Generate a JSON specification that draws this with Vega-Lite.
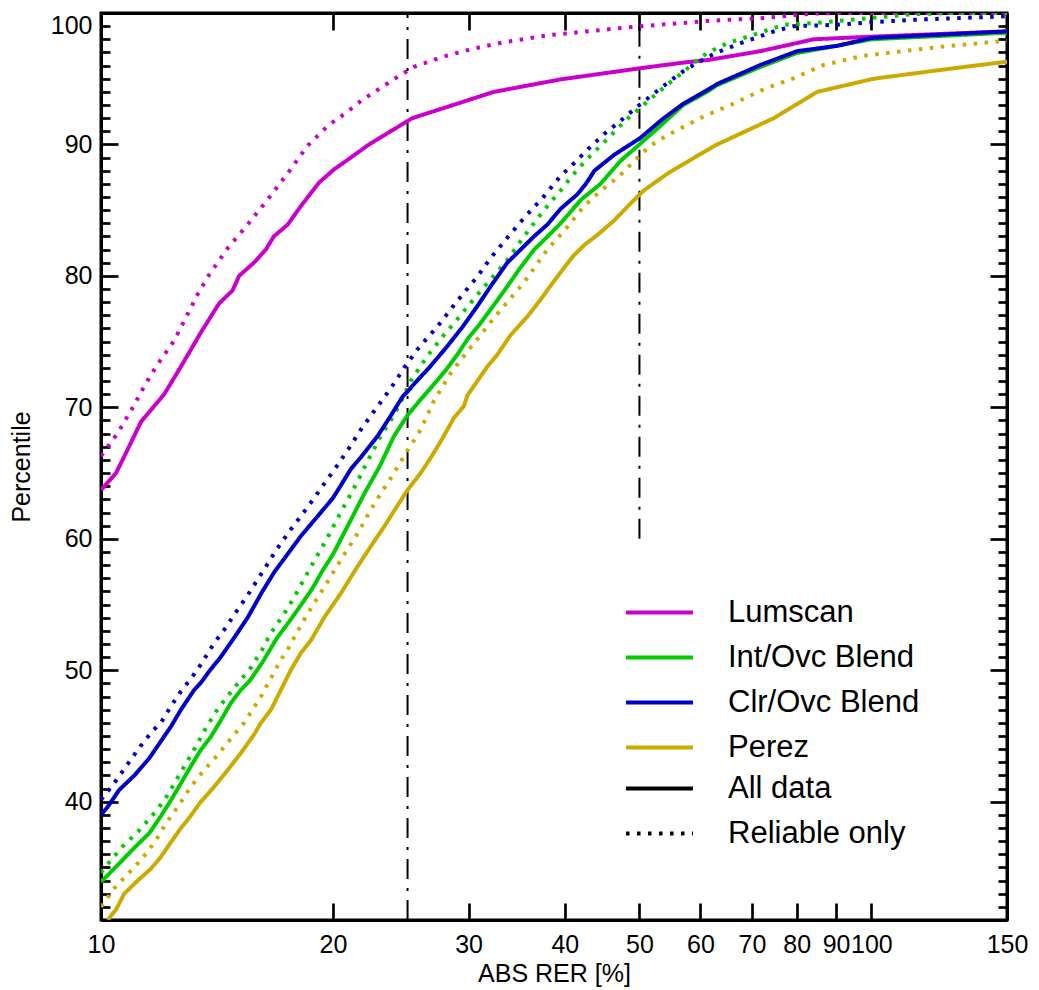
{
  "$schema": "https://vega.github.io/schema/vega-lite/v6.json",
  "width": 906,
  "height": 907,
  "autosize": {"type": "none"},
  "padding": {"left": 101, "top": 13, "right": 32, "bottom": 70},
  "background": "white",
  "config": {
    "font": "Liberation Sans",
    "view": {"stroke": "black", "strokeWidth": 3},
    "axis": {
      "domainColor": "black", "domainWidth": 3,
      "tickColor": "black", "tickWidth": 2.7,
      "labelColor": "black", "labelFont": "Liberation Sans", "labelFontSize": 25,
      "titleFont": "Liberation Sans", "titleFontSize": 25, "titleFontWeight": "normal", "titleColor": "black",
      "grid": false, "labelOverlap": false
    }
  },
  "datasets": {
    "refs": [
      {"rer": 25, "lo": 31, "hi": 100},
      {"rer": 50, "lo": 60, "hi": 100}
    ],
    "curves": [
      {"method":"Lumscan","subset":"All data","rer":10,"pct":63.7},
      {"method":"Lumscan","subset":"All data","rer":10.46,"pct":65.0},
      {"method":"Lumscan","subset":"All data","rer":10.83,"pct":66.8},
      {"method":"Lumscan","subset":"All data","rer":11.27,"pct":68.9},
      {"method":"Lumscan","subset":"All data","rer":11.61,"pct":69.8},
      {"method":"Lumscan","subset":"All data","rer":12.08,"pct":71.0},
      {"method":"Lumscan","subset":"All data","rer":12.7,"pct":73.1},
      {"method":"Lumscan","subset":"All data","rer":13.48,"pct":75.7},
      {"method":"Lumscan","subset":"All data","rer":14.23,"pct":77.9},
      {"method":"Lumscan","subset":"All data","rer":14.82,"pct":78.9},
      {"method":"Lumscan","subset":"All data","rer":15.11,"pct":80.0},
      {"method":"Lumscan","subset":"All data","rer":15.79,"pct":81.0},
      {"method":"Lumscan","subset":"All data","rer":16.37,"pct":82.0},
      {"method":"Lumscan","subset":"All data","rer":16.76,"pct":83.0},
      {"method":"Lumscan","subset":"All data","rer":17.47,"pct":83.9},
      {"method":"Lumscan","subset":"All data","rer":18.17,"pct":85.3},
      {"method":"Lumscan","subset":"All data","rer":19.19,"pct":87.1},
      {"method":"Lumscan","subset":"All data","rer":20.07,"pct":88.1},
      {"method":"Lumscan","subset":"All data","rer":21.1,"pct":89.0},
      {"method":"Lumscan","subset":"All data","rer":22.28,"pct":90.0},
      {"method":"Lumscan","subset":"All data","rer":25.36,"pct":92.0},
      {"method":"Lumscan","subset":"All data","rer":32.36,"pct":94.0},
      {"method":"Lumscan","subset":"All data","rer":39.5,"pct":94.95},
      {"method":"Lumscan","subset":"All data","rer":50.15,"pct":95.8},
      {"method":"Lumscan","subset":"All data","rer":56.5,"pct":96.2},
      {"method":"Lumscan","subset":"All data","rer":61.8,"pct":96.45},
      {"method":"Lumscan","subset":"All data","rer":71.8,"pct":97.1},
      {"method":"Lumscan","subset":"All data","rer":84.19,"pct":98.0},
      {"method":"Lumscan","subset":"All data","rer":100,"pct":98.2},
      {"method":"Lumscan","subset":"All data","rer":150,"pct":98.6},

      {"method":"Lumscan","subset":"Reliable only","rer":10,"pct":66.3},
      {"method":"Lumscan","subset":"Reliable only","rer":10.5,"pct":68.0},
      {"method":"Lumscan","subset":"Reliable only","rer":11.0,"pct":70.0},
      {"method":"Lumscan","subset":"Reliable only","rer":11.38,"pct":71.6},
      {"method":"Lumscan","subset":"Reliable only","rer":11.79,"pct":73.1},
      {"method":"Lumscan","subset":"Reliable only","rer":12.45,"pct":75.1},
      {"method":"Lumscan","subset":"Reliable only","rer":12.83,"pct":76.6},
      {"method":"Lumscan","subset":"Reliable only","rer":13.35,"pct":78.6},
      {"method":"Lumscan","subset":"Reliable only","rer":13.82,"pct":80.1},
      {"method":"Lumscan","subset":"Reliable only","rer":14.6,"pct":82.1},
      {"method":"Lumscan","subset":"Reliable only","rer":15.5,"pct":83.9},
      {"method":"Lumscan","subset":"Reliable only","rer":16.45,"pct":85.8},
      {"method":"Lumscan","subset":"Reliable only","rer":17.47,"pct":87.8},
      {"method":"Lumscan","subset":"Reliable only","rer":18.54,"pct":89.9},
      {"method":"Lumscan","subset":"Reliable only","rer":19.68,"pct":91.4},
      {"method":"Lumscan","subset":"Reliable only","rer":20.79,"pct":92.4},
      {"method":"Lumscan","subset":"Reliable only","rer":21.85,"pct":93.4},
      {"method":"Lumscan","subset":"Reliable only","rer":24.13,"pct":95.05},
      {"method":"Lumscan","subset":"Reliable only","rer":25.48,"pct":95.9},
      {"method":"Lumscan","subset":"Reliable only","rer":27.87,"pct":96.7},
      {"method":"Lumscan","subset":"Reliable only","rer":30.49,"pct":97.3},
      {"method":"Lumscan","subset":"Reliable only","rer":33.51,"pct":97.8},
      {"method":"Lumscan","subset":"Reliable only","rer":37.96,"pct":98.3},
      {"method":"Lumscan","subset":"Reliable only","rer":44.51,"pct":98.7},
      {"method":"Lumscan","subset":"Reliable only","rer":50.15,"pct":99.0},
      {"method":"Lumscan","subset":"Reliable only","rer":55.97,"pct":99.2},
      {"method":"Lumscan","subset":"Reliable only","rer":61.21,"pct":99.4},
      {"method":"Lumscan","subset":"Reliable only","rer":71.8,"pct":99.6},
      {"method":"Lumscan","subset":"Reliable only","rer":83.36,"pct":99.95},
      {"method":"Lumscan","subset":"Reliable only","rer":90,"pct":100},
      {"method":"Lumscan","subset":"Reliable only","rer":150,"pct":100},

      {"method":"Int/Ovc Blend","subset":"All data","rer":10,"pct":33.9},
      {"method":"Int/Ovc Blend","subset":"All data","rer":10.56,"pct":35.3},
      {"method":"Int/Ovc Blend","subset":"All data","rer":11.05,"pct":36.5},
      {"method":"Int/Ovc Blend","subset":"All data","rer":11.55,"pct":37.6},
      {"method":"Int/Ovc Blend","subset":"All data","rer":11.96,"pct":38.9},
      {"method":"Int/Ovc Blend","subset":"All data","rer":12.32,"pct":40.1},
      {"method":"Int/Ovc Blend","subset":"All data","rer":12.7,"pct":41.4},
      {"method":"Int/Ovc Blend","subset":"All data","rer":13.08,"pct":42.7},
      {"method":"Int/Ovc Blend","subset":"All data","rer":13.48,"pct":43.95},
      {"method":"Int/Ovc Blend","subset":"All data","rer":13.89,"pct":44.95},
      {"method":"Int/Ovc Blend","subset":"All data","rer":14.31,"pct":46.2},
      {"method":"Int/Ovc Blend","subset":"All data","rer":14.74,"pct":47.5},
      {"method":"Int/Ovc Blend","subset":"All data","rer":15.19,"pct":48.5},
      {"method":"Int/Ovc Blend","subset":"All data","rer":15.6,"pct":49.2},
      {"method":"Int/Ovc Blend","subset":"All data","rer":16.2,"pct":50.6},
      {"method":"Int/Ovc Blend","subset":"All data","rer":16.9,"pct":52.4},
      {"method":"Int/Ovc Blend","subset":"All data","rer":17.5,"pct":53.6},
      {"method":"Int/Ovc Blend","subset":"All data","rer":18.0,"pct":54.6},
      {"method":"Int/Ovc Blend","subset":"All data","rer":18.8,"pct":56.2},
      {"method":"Int/Ovc Blend","subset":"All data","rer":19.4,"pct":57.6},
      {"method":"Int/Ovc Blend","subset":"All data","rer":20.0,"pct":58.8},
      {"method":"Int/Ovc Blend","subset":"All data","rer":21.0,"pct":61.2},
      {"method":"Int/Ovc Blend","subset":"All data","rer":22.0,"pct":63.5},
      {"method":"Int/Ovc Blend","subset":"All data","rer":23.0,"pct":65.5},
      {"method":"Int/Ovc Blend","subset":"All data","rer":24.0,"pct":67.8},
      {"method":"Int/Ovc Blend","subset":"All data","rer":25.0,"pct":69.4},
      {"method":"Int/Ovc Blend","subset":"All data","rer":26.0,"pct":70.6},
      {"method":"Int/Ovc Blend","subset":"All data","rer":27.0,"pct":71.7},
      {"method":"Int/Ovc Blend","subset":"All data","rer":28.0,"pct":72.8},
      {"method":"Int/Ovc Blend","subset":"All data","rer":29.0,"pct":74.0},
      {"method":"Int/Ovc Blend","subset":"All data","rer":30.0,"pct":75.3},
      {"method":"Int/Ovc Blend","subset":"All data","rer":31.0,"pct":76.3},
      {"method":"Int/Ovc Blend","subset":"All data","rer":32.0,"pct":77.4},
      {"method":"Int/Ovc Blend","subset":"All data","rer":33.5,"pct":79.0},
      {"method":"Int/Ovc Blend","subset":"All data","rer":35.0,"pct":80.6},
      {"method":"Int/Ovc Blend","subset":"All data","rer":36.5,"pct":82.0},
      {"method":"Int/Ovc Blend","subset":"All data","rer":38.0,"pct":83.0},
      {"method":"Int/Ovc Blend","subset":"All data","rer":39.5,"pct":84.0},
      {"method":"Int/Ovc Blend","subset":"All data","rer":42.0,"pct":85.8},
      {"method":"Int/Ovc Blend","subset":"All data","rer":44.5,"pct":87.0},
      {"method":"Int/Ovc Blend","subset":"All data","rer":47.25,"pct":88.75},
      {"method":"Int/Ovc Blend","subset":"All data","rer":50.0,"pct":90.0},
      {"method":"Int/Ovc Blend","subset":"All data","rer":53.2,"pct":91.4},
      {"method":"Int/Ovc Blend","subset":"All data","rer":57.0,"pct":93.0},
      {"method":"Int/Ovc Blend","subset":"All data","rer":61.2,"pct":94.0},
      {"method":"Int/Ovc Blend","subset":"All data","rer":63.0,"pct":94.5},
      {"method":"Int/Ovc Blend","subset":"All data","rer":71.8,"pct":95.9},
      {"method":"Int/Ovc Blend","subset":"All data","rer":80.0,"pct":96.95},
      {"method":"Int/Ovc Blend","subset":"All data","rer":90.0,"pct":97.5},
      {"method":"Int/Ovc Blend","subset":"All data","rer":100,"pct":98.0},
      {"method":"Int/Ovc Blend","subset":"All data","rer":150,"pct":98.5},

      {"method":"Int/Ovc Blend","subset":"Reliable only","rer":10,"pct":34.6},
      {"method":"Int/Ovc Blend","subset":"Reliable only","rer":10.25,"pct":35.4},
      {"method":"Int/Ovc Blend","subset":"Reliable only","rer":10.67,"pct":36.6},
      {"method":"Int/Ovc Blend","subset":"Reliable only","rer":11.16,"pct":37.7},
      {"method":"Int/Ovc Blend","subset":"Reliable only","rer":11.6,"pct":38.8},
      {"method":"Int/Ovc Blend","subset":"Reliable only","rer":12.08,"pct":40.1},
      {"method":"Int/Ovc Blend","subset":"Reliable only","rer":12.45,"pct":41.4},
      {"method":"Int/Ovc Blend","subset":"Reliable only","rer":12.89,"pct":42.9},
      {"method":"Int/Ovc Blend","subset":"Reliable only","rer":13.28,"pct":44.2},
      {"method":"Int/Ovc Blend","subset":"Reliable only","rer":13.68,"pct":45.6},
      {"method":"Int/Ovc Blend","subset":"Reliable only","rer":14.1,"pct":46.85},
      {"method":"Int/Ovc Blend","subset":"Reliable only","rer":14.5,"pct":47.8},
      {"method":"Int/Ovc Blend","subset":"Reliable only","rer":15.0,"pct":48.9},
      {"method":"Int/Ovc Blend","subset":"Reliable only","rer":15.65,"pct":50.2},
      {"method":"Int/Ovc Blend","subset":"Reliable only","rer":16.2,"pct":51.6},
      {"method":"Int/Ovc Blend","subset":"Reliable only","rer":16.6,"pct":52.8},
      {"method":"Int/Ovc Blend","subset":"Reliable only","rer":17.29,"pct":54.3},
      {"method":"Int/Ovc Blend","subset":"Reliable only","rer":17.83,"pct":55.6},
      {"method":"Int/Ovc Blend","subset":"Reliable only","rer":18.3,"pct":56.8},
      {"method":"Int/Ovc Blend","subset":"Reliable only","rer":18.9,"pct":58.3},
      {"method":"Int/Ovc Blend","subset":"Reliable only","rer":19.6,"pct":59.9},
      {"method":"Int/Ovc Blend","subset":"Reliable only","rer":20.3,"pct":61.6},
      {"method":"Int/Ovc Blend","subset":"Reliable only","rer":21.0,"pct":63.2},
      {"method":"Int/Ovc Blend","subset":"Reliable only","rer":21.5,"pct":64.3},
      {"method":"Int/Ovc Blend","subset":"Reliable only","rer":22.18,"pct":65.9},
      {"method":"Int/Ovc Blend","subset":"Reliable only","rer":23.07,"pct":67.8},
      {"method":"Int/Ovc Blend","subset":"Reliable only","rer":23.77,"pct":69.0},
      {"method":"Int/Ovc Blend","subset":"Reliable only","rer":24.46,"pct":70.3},
      {"method":"Int/Ovc Blend","subset":"Reliable only","rer":25.23,"pct":72.0},
      {"method":"Int/Ovc Blend","subset":"Reliable only","rer":26.52,"pct":73.9},
      {"method":"Int/Ovc Blend","subset":"Reliable only","rer":27.87,"pct":75.5},
      {"method":"Int/Ovc Blend","subset":"Reliable only","rer":29.3,"pct":77.0},
      {"method":"Int/Ovc Blend","subset":"Reliable only","rer":30.04,"pct":77.8},
      {"method":"Int/Ovc Blend","subset":"Reliable only","rer":31.73,"pct":79.45},
      {"method":"Int/Ovc Blend","subset":"Reliable only","rer":33.68,"pct":81.2},
      {"method":"Int/Ovc Blend","subset":"Reliable only","rer":35.4,"pct":83.0},
      {"method":"Int/Ovc Blend","subset":"Reliable only","rer":37.58,"pct":85.0},
      {"method":"Int/Ovc Blend","subset":"Reliable only","rer":39.5,"pct":86.5},
      {"method":"Int/Ovc Blend","subset":"Reliable only","rer":41.0,"pct":87.7},
      {"method":"Int/Ovc Blend","subset":"Reliable only","rer":42.78,"pct":88.9},
      {"method":"Int/Ovc Blend","subset":"Reliable only","rer":45.58,"pct":90.5},
      {"method":"Int/Ovc Blend","subset":"Reliable only","rer":47.9,"pct":91.8},
      {"method":"Int/Ovc Blend","subset":"Reliable only","rer":50.15,"pct":92.8},
      {"method":"Int/Ovc Blend","subset":"Reliable only","rer":52.7,"pct":93.9},
      {"method":"Int/Ovc Blend","subset":"Reliable only","rer":55.3,"pct":94.9},
      {"method":"Int/Ovc Blend","subset":"Reliable only","rer":57.75,"pct":95.8},
      {"method":"Int/Ovc Blend","subset":"Reliable only","rer":59.4,"pct":96.4},
      {"method":"Int/Ovc Blend","subset":"Reliable only","rer":61.2,"pct":96.95},
      {"method":"Int/Ovc Blend","subset":"Reliable only","rer":65.0,"pct":97.7},
      {"method":"Int/Ovc Blend","subset":"Reliable only","rer":70.38,"pct":98.35},
      {"method":"Int/Ovc Blend","subset":"Reliable only","rer":76.97,"pct":99.1},
      {"method":"Int/Ovc Blend","subset":"Reliable only","rer":85.05,"pct":99.25},
      {"method":"Int/Ovc Blend","subset":"Reliable only","rer":94.86,"pct":99.5},
      {"method":"Int/Ovc Blend","subset":"Reliable only","rer":112.3,"pct":99.9},
      {"method":"Int/Ovc Blend","subset":"Reliable only","rer":127.9,"pct":100},
      {"method":"Int/Ovc Blend","subset":"Reliable only","rer":150,"pct":100},

      {"method":"Clr/Ovc Blend","subset":"All data","rer":10,"pct":39.0},
      {"method":"Clr/Ovc Blend","subset":"All data","rer":10.2,"pct":39.6},
      {"method":"Clr/Ovc Blend","subset":"All data","rer":10.56,"pct":40.9},
      {"method":"Clr/Ovc Blend","subset":"All data","rer":11.05,"pct":42.0},
      {"method":"Clr/Ovc Blend","subset":"All data","rer":11.55,"pct":43.3},
      {"method":"Clr/Ovc Blend","subset":"All data","rer":11.96,"pct":44.6},
      {"method":"Clr/Ovc Blend","subset":"All data","rer":12.32,"pct":45.7},
      {"method":"Clr/Ovc Blend","subset":"All data","rer":12.7,"pct":47.0},
      {"method":"Clr/Ovc Blend","subset":"All data","rer":13.21,"pct":48.5},
      {"method":"Clr/Ovc Blend","subset":"All data","rer":13.5,"pct":49.1},
      {"method":"Clr/Ovc Blend","subset":"All data","rer":13.85,"pct":50.0},
      {"method":"Clr/Ovc Blend","subset":"All data","rer":14.3,"pct":51.0},
      {"method":"Clr/Ovc Blend","subset":"All data","rer":14.9,"pct":52.5},
      {"method":"Clr/Ovc Blend","subset":"All data","rer":15.5,"pct":54.0},
      {"method":"Clr/Ovc Blend","subset":"All data","rer":16.2,"pct":56.0},
      {"method":"Clr/Ovc Blend","subset":"All data","rer":16.8,"pct":57.5},
      {"method":"Clr/Ovc Blend","subset":"All data","rer":17.3,"pct":58.5},
      {"method":"Clr/Ovc Blend","subset":"All data","rer":18.17,"pct":60.2},
      {"method":"Clr/Ovc Blend","subset":"All data","rer":19.29,"pct":62.0},
      {"method":"Clr/Ovc Blend","subset":"All data","rer":20.0,"pct":63.1},
      {"method":"Clr/Ovc Blend","subset":"All data","rer":20.4,"pct":63.9},
      {"method":"Clr/Ovc Blend","subset":"All data","rer":21.1,"pct":65.3},
      {"method":"Clr/Ovc Blend","subset":"All data","rer":21.74,"pct":66.2},
      {"method":"Clr/Ovc Blend","subset":"All data","rer":22.85,"pct":67.8},
      {"method":"Clr/Ovc Blend","subset":"All data","rer":23.8,"pct":69.4},
      {"method":"Clr/Ovc Blend","subset":"All data","rer":24.62,"pct":70.8},
      {"method":"Clr/Ovc Blend","subset":"All data","rer":25.0,"pct":71.2},
      {"method":"Clr/Ovc Blend","subset":"All data","rer":25.6,"pct":71.9},
      {"method":"Clr/Ovc Blend","subset":"All data","rer":26.65,"pct":73.0},
      {"method":"Clr/Ovc Blend","subset":"All data","rer":28.02,"pct":74.5},
      {"method":"Clr/Ovc Blend","subset":"All data","rer":29.45,"pct":76.1},
      {"method":"Clr/Ovc Blend","subset":"All data","rer":30.8,"pct":77.7},
      {"method":"Clr/Ovc Blend","subset":"All data","rer":32.04,"pct":79.2},
      {"method":"Clr/Ovc Blend","subset":"All data","rer":33.68,"pct":81.0},
      {"method":"Clr/Ovc Blend","subset":"All data","rer":35.05,"pct":82.0},
      {"method":"Clr/Ovc Blend","subset":"All data","rer":36.48,"pct":83.0},
      {"method":"Clr/Ovc Blend","subset":"All data","rer":37.96,"pct":83.9},
      {"method":"Clr/Ovc Blend","subset":"All data","rer":39.5,"pct":85.1},
      {"method":"Clr/Ovc Blend","subset":"All data","rer":41.52,"pct":86.2},
      {"method":"Clr/Ovc Blend","subset":"All data","rer":42.6,"pct":87.0},
      {"method":"Clr/Ovc Blend","subset":"All data","rer":43.7,"pct":88.0},
      {"method":"Clr/Ovc Blend","subset":"All data","rer":46.33,"pct":89.2},
      {"method":"Clr/Ovc Blend","subset":"All data","rer":50.15,"pct":90.5},
      {"method":"Clr/Ovc Blend","subset":"All data","rer":53.5,"pct":91.9},
      {"method":"Clr/Ovc Blend","subset":"All data","rer":57.0,"pct":93.1},
      {"method":"Clr/Ovc Blend","subset":"All data","rer":61.5,"pct":94.2},
      {"method":"Clr/Ovc Blend","subset":"All data","rer":63.08,"pct":94.6},
      {"method":"Clr/Ovc Blend","subset":"All data","rer":71.8,"pct":96.05},
      {"method":"Clr/Ovc Blend","subset":"All data","rer":80.13,"pct":97.1},
      {"method":"Clr/Ovc Blend","subset":"All data","rer":90.28,"pct":97.5},
      {"method":"Clr/Ovc Blend","subset":"All data","rer":100,"pct":98.1},
      {"method":"Clr/Ovc Blend","subset":"All data","rer":150,"pct":98.6},

      {"method":"Clr/Ovc Blend","subset":"Reliable only","rer":10,"pct":40.15},
      {"method":"Clr/Ovc Blend","subset":"Reliable only","rer":10.4,"pct":41.4},
      {"method":"Clr/Ovc Blend","subset":"Reliable only","rer":10.78,"pct":42.7},
      {"method":"Clr/Ovc Blend","subset":"Reliable only","rer":11.21,"pct":44.1},
      {"method":"Clr/Ovc Blend","subset":"Reliable only","rer":11.67,"pct":45.4},
      {"method":"Clr/Ovc Blend","subset":"Reliable only","rer":11.96,"pct":46.0},
      {"method":"Clr/Ovc Blend","subset":"Reliable only","rer":12.32,"pct":47.25},
      {"method":"Clr/Ovc Blend","subset":"Reliable only","rer":12.7,"pct":48.4},
      {"method":"Clr/Ovc Blend","subset":"Reliable only","rer":13.1,"pct":49.4},
      {"method":"Clr/Ovc Blend","subset":"Reliable only","rer":13.5,"pct":50.5},
      {"method":"Clr/Ovc Blend","subset":"Reliable only","rer":14.0,"pct":52.0},
      {"method":"Clr/Ovc Blend","subset":"Reliable only","rer":14.5,"pct":53.2},
      {"method":"Clr/Ovc Blend","subset":"Reliable only","rer":15.0,"pct":54.5},
      {"method":"Clr/Ovc Blend","subset":"Reliable only","rer":15.5,"pct":55.7},
      {"method":"Clr/Ovc Blend","subset":"Reliable only","rer":16.05,"pct":57.1},
      {"method":"Clr/Ovc Blend","subset":"Reliable only","rer":16.5,"pct":58.2},
      {"method":"Clr/Ovc Blend","subset":"Reliable only","rer":16.86,"pct":59.1},
      {"method":"Clr/Ovc Blend","subset":"Reliable only","rer":17.63,"pct":60.7},
      {"method":"Clr/Ovc Blend","subset":"Reliable only","rer":18.3,"pct":61.95},
      {"method":"Clr/Ovc Blend","subset":"Reliable only","rer":18.91,"pct":63.1},
      {"method":"Clr/Ovc Blend","subset":"Reliable only","rer":19.6,"pct":64.4},
      {"method":"Clr/Ovc Blend","subset":"Reliable only","rer":20.28,"pct":65.6},
      {"method":"Clr/Ovc Blend","subset":"Reliable only","rer":21.1,"pct":67.1},
      {"method":"Clr/Ovc Blend","subset":"Reliable only","rer":21.74,"pct":68.3},
      {"method":"Clr/Ovc Blend","subset":"Reliable only","rer":22.62,"pct":69.7},
      {"method":"Clr/Ovc Blend","subset":"Reliable only","rer":23.54,"pct":71.1},
      {"method":"Clr/Ovc Blend","subset":"Reliable only","rer":24.0,"pct":71.8},
      {"method":"Clr/Ovc Blend","subset":"Reliable only","rer":24.74,"pct":73.0},
      {"method":"Clr/Ovc Blend","subset":"Reliable only","rer":25.74,"pct":74.4},
      {"method":"Clr/Ovc Blend","subset":"Reliable only","rer":27.33,"pct":76.15},
      {"method":"Clr/Ovc Blend","subset":"Reliable only","rer":29.01,"pct":78.1},
      {"method":"Clr/Ovc Blend","subset":"Reliable only","rer":30.8,"pct":79.95},
      {"method":"Clr/Ovc Blend","subset":"Reliable only","rer":32.04,"pct":81.35},
      {"method":"Clr/Ovc Blend","subset":"Reliable only","rer":33.68,"pct":82.9},
      {"method":"Clr/Ovc Blend","subset":"Reliable only","rer":35.4,"pct":84.4},
      {"method":"Clr/Ovc Blend","subset":"Reliable only","rer":37.58,"pct":86.05},
      {"method":"Clr/Ovc Blend","subset":"Reliable only","rer":39.5,"pct":87.6},
      {"method":"Clr/Ovc Blend","subset":"Reliable only","rer":41.0,"pct":88.5},
      {"method":"Clr/Ovc Blend","subset":"Reliable only","rer":42.9,"pct":89.65},
      {"method":"Clr/Ovc Blend","subset":"Reliable only","rer":45.0,"pct":90.8},
      {"method":"Clr/Ovc Blend","subset":"Reliable only","rer":47.25,"pct":91.8},
      {"method":"Clr/Ovc Blend","subset":"Reliable only","rer":49.5,"pct":92.8},
      {"method":"Clr/Ovc Blend","subset":"Reliable only","rer":52.0,"pct":93.8},
      {"method":"Clr/Ovc Blend","subset":"Reliable only","rer":54.7,"pct":94.8},
      {"method":"Clr/Ovc Blend","subset":"Reliable only","rer":57.1,"pct":95.6},
      {"method":"Clr/Ovc Blend","subset":"Reliable only","rer":60.6,"pct":96.5},
      {"method":"Clr/Ovc Blend","subset":"Reliable only","rer":63.0,"pct":97.0},
      {"method":"Clr/Ovc Blend","subset":"Reliable only","rer":67.64,"pct":97.7},
      {"method":"Clr/Ovc Blend","subset":"Reliable only","rer":74.7,"pct":98.6},
      {"method":"Clr/Ovc Blend","subset":"Reliable only","rer":79.3,"pct":99.0},
      {"method":"Clr/Ovc Blend","subset":"Reliable only","rer":90,"pct":99.1},
      {"method":"Clr/Ovc Blend","subset":"Reliable only","rer":100,"pct":99.3},
      {"method":"Clr/Ovc Blend","subset":"Reliable only","rer":115,"pct":99.5},
      {"method":"Clr/Ovc Blend","subset":"Reliable only","rer":150,"pct":99.75},

      {"method":"Perez","subset":"All data","rer":10.2,"pct":31.0},
      {"method":"Perez","subset":"All data","rer":10.46,"pct":31.8},
      {"method":"Perez","subset":"All data","rer":10.72,"pct":33.0},
      {"method":"Perez","subset":"All data","rer":11.16,"pct":34.0},
      {"method":"Perez","subset":"All data","rer":11.61,"pct":34.9},
      {"method":"Perez","subset":"All data","rer":11.96,"pct":35.8},
      {"method":"Perez","subset":"All data","rer":12.32,"pct":36.9},
      {"method":"Perez","subset":"All data","rer":12.7,"pct":38.0},
      {"method":"Perez","subset":"All data","rer":12.95,"pct":38.6},
      {"method":"Perez","subset":"All data","rer":13.48,"pct":40.0},
      {"method":"Perez","subset":"All data","rer":14.03,"pct":41.15},
      {"method":"Perez","subset":"All data","rer":14.6,"pct":42.4},
      {"method":"Perez","subset":"All data","rer":15.19,"pct":43.7},
      {"method":"Perez","subset":"All data","rer":15.8,"pct":45.1},
      {"method":"Perez","subset":"All data","rer":16.13,"pct":46.0},
      {"method":"Perez","subset":"All data","rer":16.62,"pct":47.0},
      {"method":"Perez","subset":"All data","rer":17.12,"pct":48.5},
      {"method":"Perez","subset":"All data","rer":17.63,"pct":50.0},
      {"method":"Perez","subset":"All data","rer":18.17,"pct":51.3},
      {"method":"Perez","subset":"All data","rer":18.74,"pct":52.3},
      {"method":"Perez","subset":"All data","rer":19.48,"pct":54.0},
      {"method":"Perez","subset":"All data","rer":20.48,"pct":55.85},
      {"method":"Perez","subset":"All data","rer":21.53,"pct":57.9},
      {"method":"Perez","subset":"All data","rer":22.62,"pct":59.8},
      {"method":"Perez","subset":"All data","rer":23.3,"pct":60.9},
      {"method":"Perez","subset":"All data","rer":24.0,"pct":62.1},
      {"method":"Perez","subset":"All data","rer":24.99,"pct":63.7},
      {"method":"Perez","subset":"All data","rer":26.0,"pct":65.0},
      {"method":"Perez","subset":"All data","rer":26.85,"pct":66.25},
      {"method":"Perez","subset":"All data","rer":27.6,"pct":67.4},
      {"method":"Perez","subset":"All data","rer":28.72,"pct":69.2},
      {"method":"Perez","subset":"All data","rer":29.59,"pct":70.1},
      {"method":"Perez","subset":"All data","rer":29.89,"pct":70.9},
      {"method":"Perez","subset":"All data","rer":30.8,"pct":72.0},
      {"method":"Perez","subset":"All data","rer":31.73,"pct":73.1},
      {"method":"Perez","subset":"All data","rer":32.69,"pct":74.0},
      {"method":"Perez","subset":"All data","rer":34.02,"pct":75.5},
      {"method":"Perez","subset":"All data","rer":35.76,"pct":76.9},
      {"method":"Perez","subset":"All data","rer":37.21,"pct":78.2},
      {"method":"Perez","subset":"All data","rer":38.5,"pct":79.4},
      {"method":"Perez","subset":"All data","rer":39.89,"pct":80.6},
      {"method":"Perez","subset":"All data","rer":41.0,"pct":81.5},
      {"method":"Perez","subset":"All data","rer":42.5,"pct":82.4},
      {"method":"Perez","subset":"All data","rer":44.07,"pct":83.1},
      {"method":"Perez","subset":"All data","rer":46.32,"pct":84.2},
      {"method":"Perez","subset":"All data","rer":48.68,"pct":85.5},
      {"method":"Perez","subset":"All data","rer":50.65,"pct":86.5},
      {"method":"Perez","subset":"All data","rer":54.6,"pct":87.85},
      {"method":"Perez","subset":"All data","rer":58.81,"pct":88.97},
      {"method":"Perez","subset":"All data","rer":61.8,"pct":89.7},
      {"method":"Perez","subset":"All data","rer":63.08,"pct":90.0},
      {"method":"Perez","subset":"All data","rer":74.7,"pct":92.0},
      {"method":"Perez","subset":"All data","rer":85.05,"pct":94.0},
      {"method":"Perez","subset":"All data","rer":100.7,"pct":95.0},
      {"method":"Perez","subset":"All data","rer":120.5,"pct":95.6},
      {"method":"Perez","subset":"All data","rer":150,"pct":96.3},

      {"method":"Perez","subset":"Reliable only","rer":10,"pct":32.0},
      {"method":"Perez","subset":"Reliable only","rer":10.2,"pct":32.7},
      {"method":"Perez","subset":"Reliable only","rer":10.4,"pct":33.4},
      {"method":"Perez","subset":"Reliable only","rer":10.72,"pct":34.2},
      {"method":"Perez","subset":"Reliable only","rer":11.16,"pct":35.3},
      {"method":"Perez","subset":"Reliable only","rer":11.5,"pct":36.2},
      {"method":"Perez","subset":"Reliable only","rer":11.85,"pct":37.3},
      {"method":"Perez","subset":"Reliable only","rer":12.14,"pct":38.35},
      {"method":"Perez","subset":"Reliable only","rer":12.63,"pct":39.75},
      {"method":"Perez","subset":"Reliable only","rer":13.08,"pct":41.15},
      {"method":"Perez","subset":"Reliable only","rer":13.61,"pct":42.4},
      {"method":"Perez","subset":"Reliable only","rer":14.17,"pct":43.55},
      {"method":"Perez","subset":"Reliable only","rer":14.74,"pct":44.8},
      {"method":"Perez","subset":"Reliable only","rer":15.34,"pct":46.0},
      {"method":"Perez","subset":"Reliable only","rer":15.89,"pct":47.4},
      {"method":"Perez","subset":"Reliable only","rer":16.13,"pct":48.0},
      {"method":"Perez","subset":"Reliable only","rer":16.62,"pct":49.4},
      {"method":"Perez","subset":"Reliable only","rer":17.12,"pct":50.8},
      {"method":"Perez","subset":"Reliable only","rer":17.47,"pct":51.55},
      {"method":"Perez","subset":"Reliable only","rer":17.99,"pct":52.95},
      {"method":"Perez","subset":"Reliable only","rer":18.54,"pct":54.3},
      {"method":"Perez","subset":"Reliable only","rer":19.48,"pct":56.3},
      {"method":"Perez","subset":"Reliable only","rer":20.48,"pct":58.4},
      {"method":"Perez","subset":"Reliable only","rer":21.53,"pct":60.4},
      {"method":"Perez","subset":"Reliable only","rer":22.62,"pct":62.65},
      {"method":"Perez","subset":"Reliable only","rer":23.77,"pct":64.6},
      {"method":"Perez","subset":"Reliable only","rer":24.99,"pct":66.7},
      {"method":"Perez","subset":"Reliable only","rer":26.0,"pct":68.3},
      {"method":"Perez","subset":"Reliable only","rer":27.05,"pct":70.5},
      {"method":"Perez","subset":"Reliable only","rer":28.44,"pct":72.6},
      {"method":"Perez","subset":"Reliable only","rer":29.89,"pct":74.25},
      {"method":"Perez","subset":"Reliable only","rer":31.1,"pct":75.5},
      {"method":"Perez","subset":"Reliable only","rer":32.36,"pct":76.8},
      {"method":"Perez","subset":"Reliable only","rer":33.68,"pct":78.0},
      {"method":"Perez","subset":"Reliable only","rer":35.4,"pct":79.5},
      {"method":"Perez","subset":"Reliable only","rer":37.96,"pct":82.0},
      {"method":"Perez","subset":"Reliable only","rer":39.89,"pct":83.4},
      {"method":"Perez","subset":"Reliable only","rer":42.35,"pct":85.3},
      {"method":"Perez","subset":"Reliable only","rer":44.68,"pct":86.55},
      {"method":"Perez","subset":"Reliable only","rer":47.0,"pct":87.55},
      {"method":"Perez","subset":"Reliable only","rer":49.16,"pct":88.7},
      {"method":"Perez","subset":"Reliable only","rer":51.5,"pct":89.85},
      {"method":"Perez","subset":"Reliable only","rer":54.33,"pct":90.7},
      {"method":"Perez","subset":"Reliable only","rer":57.75,"pct":91.5},
      {"method":"Perez","subset":"Reliable only","rer":60.9,"pct":92.2},
      {"method":"Perez","subset":"Reliable only","rer":65.65,"pct":93.0},
      {"method":"Perez","subset":"Reliable only","rer":72.51,"pct":94.2},
      {"method":"Perez","subset":"Reliable only","rer":79.32,"pct":95.05},
      {"method":"Perez","subset":"Reliable only","rer":86.74,"pct":96.05},
      {"method":"Perez","subset":"Reliable only","rer":97.73,"pct":96.75},
      {"method":"Perez","subset":"Reliable only","rer":110.1,"pct":97.1},
      {"method":"Perez","subset":"Reliable only","rer":124.1,"pct":97.45},
      {"method":"Perez","subset":"Reliable only","rer":150,"pct":97.9}
    ]
  },
  "layer": [
    {
      "data": {"name": "refs"},
      "mark": {"type": "rule", "color": "black", "strokeWidth": 2, "strokeDash": [20, 9, 3, 9]},
      "encoding": {
        "x": {
          "field": "rer", "type": "quantitative",
          "scale": {"type": "log", "domain": [10, 150], "nice": false},
          "axis": {"orient": "top", "values": [10, 20, 30, 40, 50, 60, 70, 80, 90, 100, 150], "labels": false, "tickSize": -17, "title": null}
        },
        "y": {
          "field": "lo", "type": "quantitative",
          "scale": {"domain": [31, 100], "nice": false, "zero": false},
          "axis": {
            "orient": "right",
            "values": [32,33,34,35,36,37,38,39,40,41,42,43,44,45,46,47,48,49,50,51,52,53,54,55,56,57,58,59,60,61,62,63,64,65,66,67,68,69,70,71,72,73,74,75,76,77,78,79,80,81,82,83,84,85,86,87,88,89,90,91,92,93,94,95,96,97,98,99,100],
            "labels": false,
            "tickSize": {"condition": {"test": "datum.value % 10 === 0", "value": -17}, "value": -9},
            "title": null
          }
        },
        "y2": {"field": "hi"}
      }
    },
    {
      "data": {"name": "curves"},
      "mark": {"type": "line", "strokeWidth": 4, "clip": true},
      "encoding": {
        "x": {
          "field": "rer", "type": "quantitative",
          "scale": {"type": "log", "domain": [10, 150], "nice": false},
          "axis": {
            "orient": "bottom", "values": [10, 20, 30, 40, 50, 60, 70, 80, 90, 100, 150],
            "format": "d", "tickSize": -17, "labelPadding": 29, "labelFlush": false,
            "title": "ABS RER [%]", "titlePadding": 4
          }
        },
        "y": {
          "field": "pct", "type": "quantitative",
          "scale": {"domain": [31, 100], "nice": false, "zero": false},
          "axis": {
            "orient": "left",
            "values": [32,33,34,35,36,37,38,39,40,41,42,43,44,45,46,47,48,49,50,51,52,53,54,55,56,57,58,59,60,61,62,63,64,65,66,67,68,69,70,71,72,73,74,75,76,77,78,79,80,81,82,83,84,85,86,87,88,89,90,91,92,93,94,95,96,97,98,99,100],
            "format": "d",
            "labelExpr": "datum.value % 10 === 0 ? datum.label : ''",
            "tickSize": {"condition": {"test": "datum.value % 10 === 0", "value": -17}, "value": -9},
            "labelPadding": 26, "labelFlush": true,
            "title": "Percentile", "titlePadding": 16
          }
        },
        "color": {
          "field": "method", "type": "nominal",
          "scale": {"domain": ["Lumscan", "Int/Ovc Blend", "Clr/Ovc Blend", "Perez"], "range": ["#cc00cc", "#00cc00", "#0000cc", "#ccaa00"]},
          "legend": {
            "orient": "none", "legendX": 543, "legendY": 584, "title": null,
            "symbolType": "M-3,0H3", "symbolSize": 498, "symbolStrokeWidth": 4,
            "labelFont": "Liberation Sans", "labelFontSize": 31, "labelColor": "black",
            "labelOffset": 53, "labelLimit": 400, "rowPadding": 13, "padding": 0
          }
        },
        "strokeDash": {
          "field": "subset", "type": "nominal",
          "scale": {"domain": ["All data", "Reliable only"], "range": [[1, 0], [3.5, 7.5]]},
          "legend": {
            "orient": "none", "legendX": 543, "legendY": 760, "title": null,
            "symbolType": "M-3,0H3", "symbolSize": 498, "symbolStrokeWidth": 4, "symbolStrokeColor": "black",
            "labelFont": "Liberation Sans", "labelFontSize": 31, "labelColor": "black",
            "labelOffset": 53, "labelLimit": 400, "rowPadding": 13, "padding": 0
          }
        },
        "detail": {"field": "subset"}
      }
    }
  ],
  "resolve": {"axis": {"x": "independent", "y": "independent"}}
}
